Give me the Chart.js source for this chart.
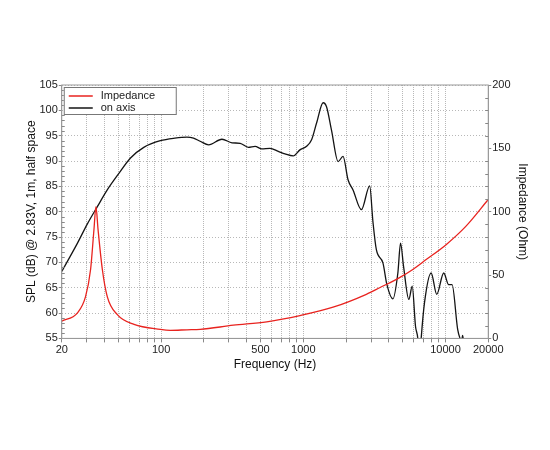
<!DOCTYPE html>
<html>
<head>
<meta charset="utf-8">
<script src="https://cdn.jsdelivr.net/npm/chart.js@4"></script>
<style>
  body { margin: 0; background: #fff; }
</style>
</head>
<body>
<canvas id="myChart" width="550" height="450"></canvas>
<script>
// on axis SPL (dB)
var freqSpl = [20, 25.8, 30.3, 35.6, 41.8, 50, 60.9, 75.5, 98.8, 125,
  152, 169, 188, 216, 268, 315, 360, 411, 458, 510,
  583, 667, 743, 850, 947, 1055, 1144, 1240, 1379, 1457,
  1579, 1757, 1904, 2064, 2238, 2564, 2931, 3090, 3266, 3632,
  3875, 4268, 4626, 4832, 5073, 5527, 5838, 6156, 6389, 6570,
  6750, 7120, 7932, 8683, 9722, 10538, 11132, 12187, 12668, 13000,
  13200, 13400];
var splDb = [68.2, 73.8, 77.6, 81.0, 84.3, 87.4, 90.6, 92.7, 94.0, 94.5,
  94.7, 94.5, 93.9, 93.2, 94.3, 93.6, 93.5, 92.7, 92.9, 92.4,
  92.5, 91.9, 91.4, 91.0, 92.2, 92.9, 94.2, 97.5, 101.5, 100.7,
  96.1, 89.9, 90.9, 86.3, 84.3, 80.4, 85.1, 78.0, 72.5, 69.9,
  65.6, 62.8, 67.9, 73.8, 69.2, 62.7, 65.3, 57.4, 55, 50,
  55, 62.0, 67.9, 63.7, 67.9, 65.6, 65.6, 56.8, 55, 54.5,
  55.6, 54.5];

// impedance (Ohm)
var freqImp = [20, 25.8, 29.4, 31.9, 33.7, 34.8, 36, 38.6, 41.8, 49.2,
  64.5, 98.8, 116, 152, 188, 322, 553, 947, 1620, 2777,
  3445, 4755, 5895, 7316, 10105, 13957, 20000];
var impOhm = [13.6, 20.2, 33, 54.4, 86, 104, 86, 54.4, 33, 18.7,
  11, 7.1, 6.4, 6.8, 7.1, 10.4, 13.1, 18, 24.6, 34.8,
  40, 48, 54.4, 62.2, 74, 88.6, 109.6];

var gridFreqs = [20, 30, 40, 50, 60, 70, 80, 90, 100, 200, 300, 400, 500, 600, 700, 800, 900,
  1000, 2000, 3000, 4000, 5000, 6000, 7000, 8000, 9000, 10000, 20000];
var freqLabels = [20, 100, 500, 1000, 10000, 20000];

function toPoints(xs, ys) {
  return xs.map(function (x, i) { return { x: x, y: ys[i] }; });
}

var font = 'Liberation Sans, Arial, Helvetica, sans-serif';

var framePlugin = {
  id: 'frame',
  afterDraw: function (chart) {
    var c = chart.ctx, a = chart.chartArea;
    c.save();
    c.strokeStyle = '#9a9a9a';
    c.lineWidth = 1;
    c.strokeRect(a.left, a.top, a.right - a.left, a.bottom - a.top);

    // minor ticks
    var yl = chart.scales.y, yr = chart.scales.y1;
    c.strokeStyle = '#888';
    c.beginPath();
    for (var v = 56; v < 105; v++) {
      if (v % 5 === 0) continue;
      var py = Math.round(yl.getPixelForValue(v)) + 0.5;
      c.moveTo(a.left, py); c.lineTo(a.left + 3, py);
    }
    for (var w = 10; w < 200; w += 10) {
      if (w % 50 === 0) continue;
      var pr = Math.round(yr.getPixelForValue(w)) + 0.5;
      c.moveTo(a.right, pr); c.lineTo(a.right - 3, pr);
    }
    c.stroke();

    // legend box in the corner of the plot
    var x0 = a.left + 2, y0 = a.top + 2;
    c.fillStyle = '#fff';
    c.fillRect(x0, y0, 112, 27);
    c.strokeStyle = '#777';
    c.strokeRect(x0 + 0.5, y0 + 0.5, 112, 27);
    c.font = '11px ' + font;
    c.textBaseline = 'middle';
    chart.data.datasets.forEach(function (ds, i) {
      var ly = y0 + 9 + i * 12;
      c.strokeStyle = ds.borderColor;
      c.lineWidth = 1.5;
      c.beginPath();
      c.moveTo(x0 + 5, ly); c.lineTo(x0 + 29, ly);
      c.stroke();
      c.fillStyle = '#222';
      c.fillText(ds.label, x0 + 37, ly);
    });
    c.restore();
  }
};

var ctx = document.getElementById('myChart').getContext('2d');
var chart = new Chart(ctx, {
  type: 'line',
  data: {
    datasets: [
      {
        label: 'Impedance',
        data: toPoints(freqImp, impOhm),
        borderColor: 'rgb(232, 35, 31)',
        borderWidth: 1.3,
        pointRadius: 0,
        cubicInterpolationMode: 'monotone',
        yAxisID: 'y1',
      },
      {
        label: 'on axis',
        data: toPoints(freqSpl, splDb),
        borderColor: 'rgb(20, 20, 20)',
        borderWidth: 1.3,
        pointRadius: 0,
        cubicInterpolationMode: 'monotone',
        yAxisID: 'y',
      },
    ],
  },
  options: {
    responsive: false,
    animation: false,
    layout: { padding: { top: 85, bottom: 78, left: 21, right: 16 } },
    plugins: {
      legend: { display: false },
      tooltip: { enabled: false },
    },
    scales: {
      x: {
        type: 'logarithmic',
        min: 20,
        max: 20000,
        afterBuildTicks: function (scale) {
          scale.ticks = gridFreqs.map(function (v) { return { value: v }; });
        },
        ticks: {
          autoSkip: false,
          maxRotation: 0,
          color: '#222',
          font: { family: font, size: 11 },
          padding: 1,
          callback: function (v) {
            return freqLabels.indexOf(v) >= 0 ? String(v) : '';
          },
        },
        grid: {
          color: '#b8b8b8',
          tickLength: 4,
          tickColor: '#888',
          tickBorderDash: [],
        },
        border: { color: '#9a9a9a', dash: [1, 1] },
        title: {
          display: true,
          text: 'Frequency (Hz)',
          color: '#111',
          font: { family: font, size: 12 },
          padding: { top: 0, bottom: 0 },
        },
      },
      y: {
        position: 'left',
        min: 55,
        max: 105,
        ticks: {
          stepSize: 5,
          color: '#222',
          font: { family: font, size: 11 },
          padding: 1,
        },
        grid: {
          color: '#b8b8b8',
          tickLength: 3,
          tickColor: '#888',
          tickBorderDash: [],
        },
        border: { color: '#9a9a9a', dash: [1, 2] },
        title: {
          display: true,
          text: 'SPL (dB) @ 2.83V, 1m, half space',
          color: '#111',
          font: { family: font, size: 12 },
          padding: { top: 3, bottom: 0 },
        },
      },
      y1: {
        position: 'right',
        min: 0,
        max: 200,
        ticks: {
          stepSize: 50,
          color: '#222',
          font: { family: font, size: 11 },
          padding: 1,
        },
        grid: {
          drawOnChartArea: false,
          tickLength: 3,
          tickColor: '#888',
        },
        border: { color: '#9a9a9a' },
        title: {
          display: true,
          text: 'Impedance (Ohm)',
          color: '#111',
          font: { family: font, size: 12 },
          padding: { top: 4, bottom: 4 },
        },
      },
    },
  },
  plugins: [framePlugin],
});
</script>
</body>
</html>
